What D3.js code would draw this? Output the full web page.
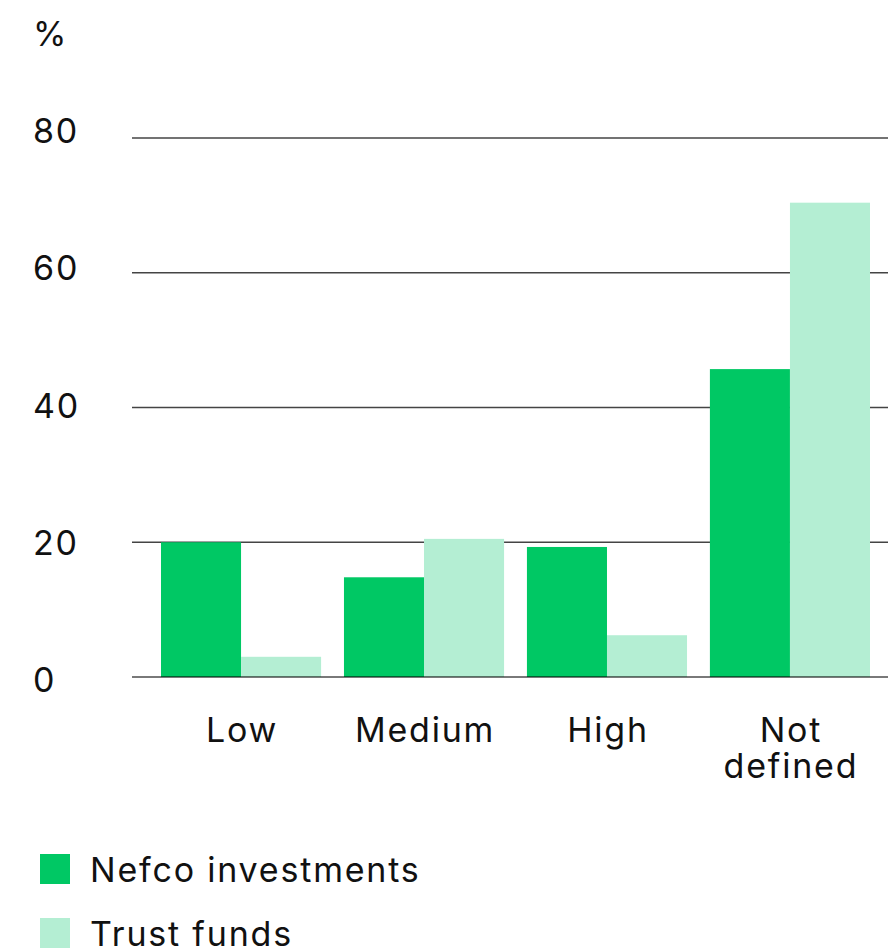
<!DOCTYPE html>
<html>
<head>
<meta charset="utf-8">
<script src="https://cdn.jsdelivr.net/npm/d3@7"></script>
<style>
  html, body { margin: 0; padding: 0; background: #fff; }
  svg { display: block; font-family: Inter, "Noto Sans", sans-serif; }
  svg text { letter-spacing: 1.8px; }
</style>
</head>
<body>
<svg id="chart" width="888" height="951"></svg>
<script>
// Share of investments by risk category, %
const categories = ["Low", "Medium", "High", "Not defined"];
const seriesNames = ["Nefco investments", "Trust funds"];
const nefcoValues = [20, 14.8, 19.3, 45.7];
const trustValues = [3, 20.5, 6.2, 70.4];
const yTicks = [0, 20, 40, 60, 80];

const colors = { "Nefco investments": "#00c864", "Trust funds": "#b4eed3" };

const svg = d3.select("#chart");

const x = d3.scaleBand().domain(categories).range([161, 870])
  .paddingInner(0.125).paddingOuter(0);
const xSub = d3.scaleBand().domain(seriesNames).range([0, x.bandwidth()]);
const y = d3.scaleLinear().domain([0, 80]).range([677, 138]);
// tick labels sit on a slightly wider spread than the gridlines
const yLabel = d3.scaleLinear().domain([0, 80]).range([679.5, 130.5]);

// Gridlines and tick labels
const grid = svg.append("g");
grid.selectAll("line").data(yTicks.filter(d => d > 0)).join("line")
  .attr("x1", 132).attr("x2", 888)
  .attr("y1", d => y(d)).attr("y2", d => y(d))
  .attr("stroke", "#444").attr("stroke-width", 1.3);

svg.append("g").selectAll("text").data(yTicks).join("text")
  .attr("x", 33).attr("y", d => yLabel(d) + 12.5)
  .attr("font-size", 34).attr("fill", "#111")
  .text(d => d);

svg.append("text").attr("x", 33).attr("y", 46)
  .attr("font-size", 34).attr("fill", "#111").text("%");

// Bars
const rows = categories.map((c, i) => ({
  category: c,
  values: [
    { series: "Nefco investments", value: nefcoValues[i] },
    { series: "Trust funds", value: trustValues[i] }
  ]
}));

const groups = svg.append("g").selectAll("g").data(rows).join("g")
  .attr("transform", d => `translate(${x(d.category)},0)`);

groups.selectAll("rect").data(d => d.values).join("rect")
  .attr("x", d => xSub(d.series))
  .attr("width", xSub.bandwidth())
  .attr("y", d => y(d.value))
  .attr("height", d => y(0) - y(d.value))
  .attr("fill", d => colors[d.series]);

// Baseline drawn above the bars
svg.append("line")
  .attr("x1", 132).attr("x2", 888)
  .attr("y1", y(0)).attr("y2", y(0))
  .attr("stroke", "#000").attr("stroke-opacity", 0.7).attr("stroke-width", 1.5);

// Category labels
const labels = svg.append("g").selectAll("text").data(categories).join("text")
  .attr("text-anchor", "middle")
  .attr("font-size", 34).attr("fill", "#111")
  .attr("transform", d => `translate(${x(d) + x.bandwidth() / 2 + 1},742)`);
labels.each(function(d) {
  const words = d === "Not defined" ? ["Not", "defined"] : [d];
  d3.select(this).selectAll("tspan").data(words).join("tspan")
    .attr("x", 0).attr("dy", (w, i) => i === 0 ? 0 : 36)
    .text(w => w);
});

// Legend
const legend = svg.append("g").selectAll("g").data(seriesNames).join("g")
  .attr("transform", (d, i) => `translate(40,${854 + i * 64})`);
legend.append("rect").attr("width", 30).attr("height", 30)
  .attr("fill", d => colors[d]);
legend.append("text").attr("x", 50).attr("y", 28)
  .attr("font-size", 34).attr("fill", "#111").text(d => d);
</script>
</body>
</html>
